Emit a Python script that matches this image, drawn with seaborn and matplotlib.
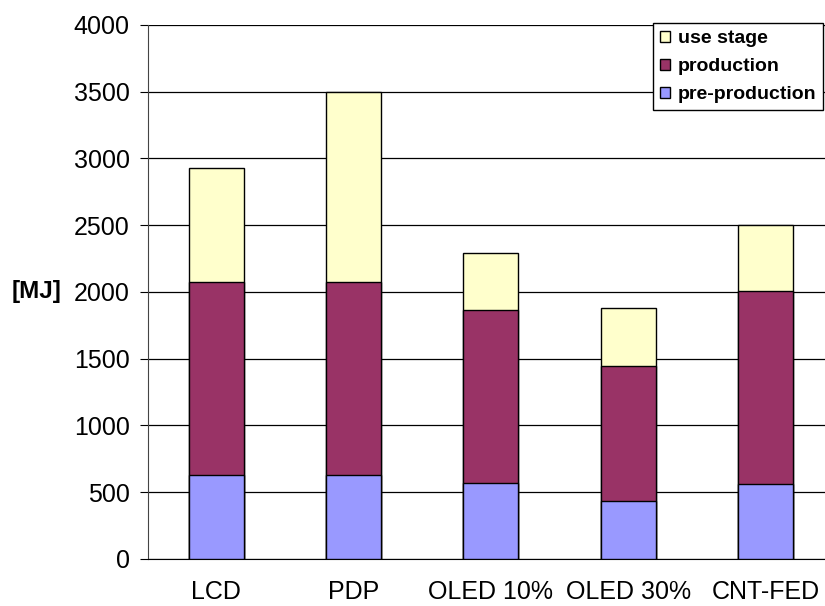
import matplotlib
matplotlib.use("Agg")
import matplotlib.pyplot as plt
import seaborn as sns
import pandas as pd
from matplotlib.patches import Patch

# ===== Data =====
displays = ["LCD", "PDP", "OLED 10%", "OLED 30%", "CNT-FED"]
pre_production = [630, 630, 568, 438, 565]
production = [1444, 1444, 1296, 1011, 1446]
use_stage = [855, 1423, 427, 430, 494]

df = pd.DataFrame({
    "display": displays,
    "pre": pre_production,
    "prod": production,
    "use": use_stage,
})
# cumulative heights for stacked look
df["cum_prod"] = df["pre"] + df["prod"]
df["cum_use"] = df["cum_prod"] + df["use"]

col_pre = "#9999FF"
col_prod = "#993366"
col_use = "#FFFFCC"

sns.set_style("white")
plt.rcParams["font.family"] = ["Liberation Sans", "DejaVu Sans"]
plt.rcParams["text.color"] = "black"
plt.rcParams["axes.labelcolor"] = "black"
plt.rcParams["xtick.color"] = "black"
plt.rcParams["ytick.color"] = "black"

fig = plt.figure(figsize=(8.25, 6.06), dpi=100)
ax = fig.add_axes([0.179, 0.0776, 0.832, 0.8812])

# ===== Stacked bars (drawn back to front) =====
for col, c in [("cum_use", col_use), ("cum_prod", col_prod), ("pre", col_pre)]:
    sns.barplot(data=df, x="display", y=col, color=c, width=0.4,
                edgecolor="black", linewidth=1.0, saturation=1, ax=ax, zorder=3)

ax.set_ylim(0, 4000)
ax.set_xlim(-0.5, 4.5)
ax.set_yticks(range(0, 4001, 500))
ax.yaxis.grid(True, color="black", linewidth=0.9)
ax.set_axisbelow(True)

# ticks: labels centred, tick marks between categories
ax.set_xticks(range(5))
ax.set_xticklabels(displays, fontsize=18)
ax.set_xticks([-0.5, 0.5, 1.5, 2.5, 3.5], minor=True)
ax.tick_params(axis="x", which="major", length=0, pad=15)
ax.tick_params(axis="x", which="minor", direction="out", length=5, width=0.8, color="black")
ax.tick_params(axis="y", direction="out", length=6, width=0.8, color="black",
               labelsize=18, left=True, pad=7)

for s in ["top", "right"]:
    ax.spines[s].set_visible(False)
ax.spines["left"].set_color("#444444")
ax.spines["bottom"].set_color("black")

ax.set_xlabel("")
ax.set_ylabel("[MJ]", fontsize=17.5, fontweight="bold", rotation=0,
              ha="right", va="center")
ax.yaxis.set_label_coords(-0.125, 0.5)

handles = [Patch(facecolor=col_use, edgecolor="black", label="use stage"),
           Patch(facecolor=col_prod, edgecolor="black", label="production"),
           Patch(facecolor=col_pre, edgecolor="black", label="pre-production")]
leg = ax.legend(handles=handles, loc="upper right", bbox_to_anchor=(0.984, 1.003),
                borderaxespad=0, prop={"weight": "bold", "size": 14}, frameon=True,
                fancybox=False, edgecolor="black", framealpha=1,
                handlelength=0.5, handleheight=0.5, handletextpad=0.4,
                labelspacing=0.57, borderpad=0.35)
leg.get_frame().set_linewidth(1.0)

plt.savefig("out.png", dpi=100)
